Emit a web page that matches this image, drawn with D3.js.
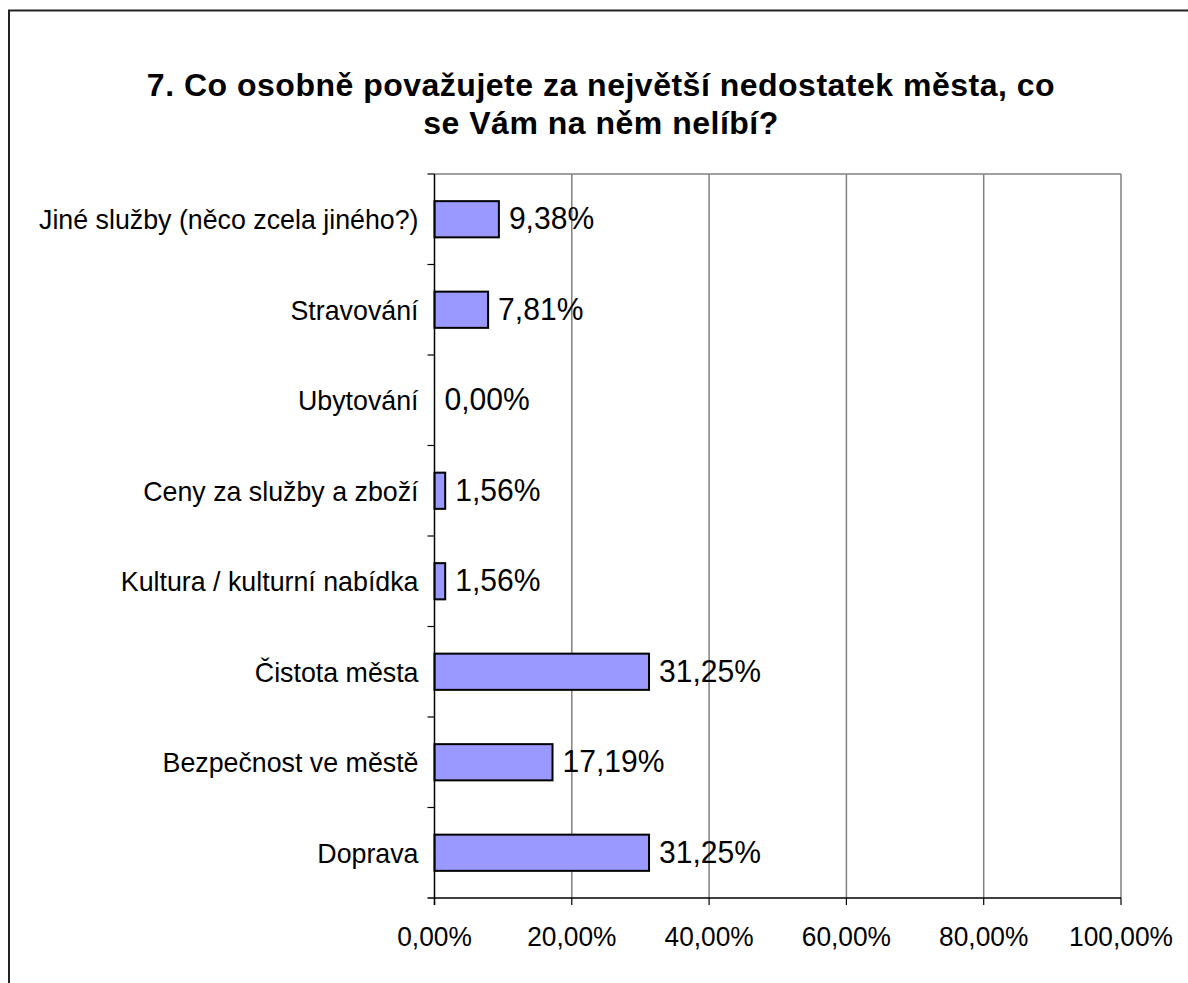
<!DOCTYPE html>
<html>
<head>
<meta charset="UTF-8" />
<title>7. Co osobně považujete za největší nedostatek města</title>
<script src="https://d3js.org/d3.v7.min.js"></script>
<style>
  body {
    margin: 0;
    background: #ffffff;
    font-family: "Liberation Sans", Arial, sans-serif;
  }
  svg text {
    fill: #000;
  }
</style>
</head>
<body>
<svg id="chart"></svg>
<script>
  // data (top to bottom)
  const categories = [
    "Jiné služby (něco zcela jiného?)",
    "Stravování",
    "Ubytování",
    "Ceny za služby a zboží",
    "Kultura / kulturní nabídka",
    "Čistota města",
    "Bezpečnost ve městě",
    "Doprava"
  ];
  const values = [9.38, 7.81, 0.00, 1.56, 1.56, 31.25, 17.19, 31.25];
  const xTicks = [0, 20, 40, 60, 80, 100];
  const titleLines = [
    "7. Co osobně považujete za největší nedostatek města, co",
    "se Vám na něm nelíbí?"
  ];

  const width = 1188, height = 983;
  const plot = { left: 434.5, right: 1121, top: 174, bottom: 898 };
  const squeeze = 0.94; // excel text is a bit narrower than it is tall

  const czLocale = d3.formatLocale({ decimal: ",", thousands: " ", grouping: [3], currency: ["", " Kč"] });
  const pct = czLocale.format(".2f");

  const svg = d3.select("#chart")
    .attr("width", width)
    .attr("height", height);

  svg.append("rect")
    .attr("width", width)
    .attr("height", height)
    .attr("fill", "#fff");

  // outer chart border (runs off the right and bottom edge)
  svg.append("rect")
    .attr("x", 9)
    .attr("y", 10.5)
    .attr("width", 1300)
    .attr("height", 1100)
    .attr("fill", "none")
    .attr("stroke", "#222")
    .attr("stroke-width", 2);

  // title
  svg.append("text")
    .attr("text-anchor", "middle")
    .style("font-size", "32px")
    .style("font-weight", "bold")
    .style("letter-spacing", "0.5px")
    .selectAll("tspan")
    .data(titleLines)
    .enter().append("tspan")
    .attr("x", 601)
    .attr("y", (d, i) => 96 + i * 38)
    .text(d => d);

  const x = d3.scaleLinear()
    .domain([0, 100])
    .range([plot.left, plot.right]);

  const y = d3.scaleBand()
    .domain(categories)
    .range([plot.top, plot.bottom])
    .padding(0);

  const barH = y.bandwidth() * 0.4;

  // gridlines
  svg.append("g")
    .selectAll("line")
    .data(xTicks.slice(1))
    .enter().append("line")
    .attr("x1", d => x(d))
    .attr("x2", d => x(d))
    .attr("y1", plot.top)
    .attr("y2", plot.bottom)
    .attr("stroke", "#808080")
    .attr("stroke-width", 1.5);

  // top edge of the plot area
  svg.append("line")
    .attr("x1", plot.left)
    .attr("x2", plot.right)
    .attr("y1", plot.top)
    .attr("y2", plot.top)
    .attr("stroke", "#808080")
    .attr("stroke-width", 1.5);

  // bars
  svg.append("g")
    .selectAll("rect")
    .data(values)
    .enter().append("rect")
    .attr("x", x(0))
    .attr("y", (d, i) => y(categories[i]) + (y.bandwidth() - barH) / 2)
    .attr("width", d => x(d) - x(0))
    .attr("height", barH)
    .attr("fill", d => d > 0 ? "#9999ff" : "none")
    .attr("stroke", d => d > 0 ? "#000" : "none")
    .attr("stroke-width", 2);

  // value labels
  svg.append("g")
    .selectAll("text")
    .data(values)
    .enter().append("text")
    .attr("transform", (d, i) =>
      `translate(${x(d) + 10},${y(categories[i]) + y.bandwidth() / 2 + 10}) scale(${squeeze},1)`)
    .style("font-size", "32px")
    .text(d => pct(d) + "%");

  // left axis
  const yAxis = svg.append("g");
  yAxis.append("line")
    .attr("x1", plot.left)
    .attr("x2", plot.left)
    .attr("y1", plot.top)
    .attr("y2", plot.bottom + 7)
    .attr("stroke", "#000")
    .attr("stroke-width", 1.5);
  yAxis.selectAll("line.tick")
    .data(categories)
    .enter().append("line")
    .attr("class", "tick")
    .attr("x1", plot.left - 7)
    .attr("x2", plot.left)
    .attr("y1", d => y(d))
    .attr("y2", d => y(d))
    .attr("stroke", "#000")
    .attr("stroke-width", 1.2);
  yAxis.selectAll("text")
    .data(categories)
    .enter().append("text")
    .attr("transform", d =>
      `translate(${plot.left - 16},${y(d) + y.bandwidth() / 2 + 10}) scale(${squeeze},1)`)
    .attr("text-anchor", "end")
    .style("font-size", "28.5px")
    .text(d => d);

  // bottom axis
  const xAxis = svg.append("g");
  xAxis.append("line")
    .attr("x1", plot.left - 7)
    .attr("x2", plot.right)
    .attr("y1", plot.bottom)
    .attr("y2", plot.bottom)
    .attr("stroke", "#000")
    .attr("stroke-width", 1.5);
  xAxis.selectAll("line.tick")
    .data(xTicks)
    .enter().append("line")
    .attr("class", "tick")
    .attr("x1", d => x(d))
    .attr("x2", d => x(d))
    .attr("y1", plot.bottom)
    .attr("y2", plot.bottom + 7)
    .attr("stroke", "#000")
    .attr("stroke-width", 1.2);
  xAxis.selectAll("text")
    .data(xTicks)
    .enter().append("text")
    .attr("transform", d => `translate(${x(d)},946) scale(${squeeze},1)`)
    .attr("text-anchor", "middle")
    .style("font-size", "28px")
    .text(d => pct(d) + "%");
</script>
</body>
</html>
